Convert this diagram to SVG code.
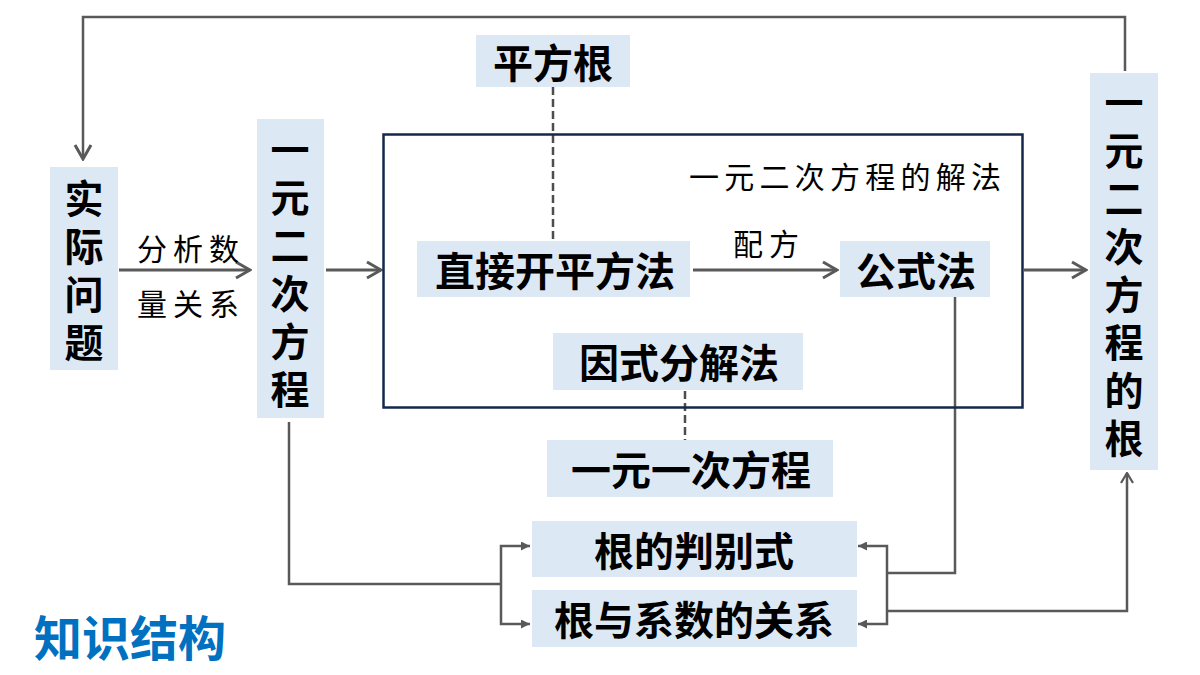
<svg xmlns="http://www.w3.org/2000/svg" width="1200" height="675" viewBox="0 0 1200 675">
<style>
.box{fill:#dde8f5}
.t{font-family:"Noto Sans CJK SC","Noto Sans",sans-serif;font-weight:bold;font-size:40px;fill:#000;dominant-baseline:central}
.v{font-size:39px}
.c{text-anchor:middle}
.lbl{font-family:"Noto Sans CJK SC","Noto Sans",sans-serif;font-weight:400;font-size:30px;fill:#000;dominant-baseline:central}
.ln{fill:none;stroke:#595959;stroke-width:2.5}
.thick{stroke-width:3}
.dash{fill:none;stroke:#4d4d4d;stroke-width:2.5;stroke-dasharray:8,4}
</style>
<defs>
<marker id="chev" viewBox="0 0 18 20" refX="16" refY="10" markerWidth="18" markerHeight="20" markerUnits="userSpaceOnUse" orient="auto"><path d="M2,2 L16,10 L2,18" fill="none" stroke="#595959" stroke-width="3"/></marker>
<marker id="chevS" viewBox="0 0 12 14" refX="11" refY="7" markerWidth="12" markerHeight="14" markerUnits="userSpaceOnUse" orient="auto"><path d="M1,1 L11,7 L1,13" fill="none" stroke="#595959" stroke-width="2.2"/></marker>
<marker id="tri" viewBox="0 0 10 10" refX="10" refY="5" markerWidth="9" markerHeight="9" markerUnits="userSpaceOnUse" orient="auto"><path d="M0,0 L10,5 L0,10 Z" fill="#595959"/></marker>
</defs>
<rect width="1200" height="675" fill="#fff"/>

<g id="connectors">
<path class="ln" d="M1125,71 V17 H83 V159" marker-end="url(#chev)"/>
<path class="ln thick" d="M119,270 H250" marker-end="url(#chev)"/>
<path class="ln thick" d="M326,270 H381" marker-end="url(#chev)"/>
<path class="ln thick" d="M693,270 H837" marker-end="url(#chev)"/>
<path class="ln thick" d="M1024,270 H1086" marker-end="url(#chev)"/>
<path class="dash" d="M553,87 V240"/>
<path class="dash" d="M685,391 V440"/>
<path class="ln" d="M289,422 V584 H501"/>
<path class="ln" d="M501,584 V546 H530" marker-end="url(#tri)"/>
<path class="ln" d="M501,584 V624 H530" marker-end="url(#tri)"/>
<path class="ln" d="M955,297 V573 H887"/>
<path class="ln" d="M887,573 V546 H858" marker-end="url(#tri)"/>
<path class="ln" d="M887,573 V624 H858" marker-end="url(#tri)"/>
<path class="ln" d="M887,611 H1127 V473" marker-end="url(#chevS)"/>
</g>

<g id="frame">
<rect x="383.5" y="134.5" width="639" height="273" fill="none" stroke="#14284b" stroke-width="2.5"/>
<text class="lbl" x="689" y="175" textLength="312" lengthAdjust="spacing">一元二次方程的解法</text>
</g>

<g id="label-analysis">
<text class="lbl" x="137" y="247" textLength="102" lengthAdjust="spacing">分析数</text>
<text class="lbl" x="137" y="302" textLength="102" lengthAdjust="spacing">量关系</text>
</g>
<g id="label-peifang">
<text class="lbl" x="733" y="242" textLength="66" lengthAdjust="spacing">配方</text>
</g>

<g id="node-shiji">
<rect class="box" x="50" y="167" width="68" height="203"/>
<text class="t v c"><tspan x="84" y="196">实</tspan><tspan x="84" y="244">际</tspan><tspan x="84" y="292">问</tspan><tspan x="84" y="340">题</tspan></text>
</g>

<g id="node-fangcheng">
<rect class="box" x="257" y="119" width="67" height="299"/>
<text class="t v c"><tspan x="290" y="147">一</tspan><tspan x="290" y="195">元</tspan><tspan x="290" y="243">二</tspan><tspan x="290" y="291">次</tspan><tspan x="290" y="339">方</tspan><tspan x="290" y="387">程</tspan></text>
</g>

<g id="node-pingfanggen">
<rect class="box" x="476" y="35" width="154" height="52"/>
<text class="t c" x="553" y="61">平方根</text>
</g>

<g id="node-zhijie">
<rect class="box" x="417" y="241" width="273" height="56"/>
<text class="t c" x="555" y="269">直接开平方法</text>
</g>

<g id="node-gongshi">
<rect class="box" x="840" y="241" width="150" height="56"/>
<text class="t c" x="916" y="269">公式法</text>
</g>

<g id="node-yinshi">
<rect class="box" x="553" y="333" width="250" height="57"/>
<text class="t c" x="679" y="361">因式分解法</text>
</g>

<g id="node-yiyuanyici">
<rect class="box" x="547" y="440" width="286" height="57"/>
<text class="t c" x="691" y="468">一元一次方程</text>
</g>

<g id="node-panbie">
<rect class="box" x="532" y="521" width="325" height="56"/>
<text class="t c" x="694" y="549">根的判别式</text>
</g>

<g id="node-xishu">
<rect class="box" x="532" y="590" width="325" height="57"/>
<text class="t c" x="694" y="618">根与系数的关系</text>
</g>

<g id="node-gen">
<rect class="box" x="1090" y="73" width="68" height="397"/>
<text class="t v c"><tspan x="1124" y="100">一</tspan><tspan x="1124" y="148">元</tspan><tspan x="1124" y="196">二</tspan><tspan x="1124" y="244">次</tspan><tspan x="1124" y="292">方</tspan><tspan x="1124" y="340">程</tspan><tspan x="1124" y="388">的</tspan><tspan x="1124" y="436">根</tspan></text>
</g>

<g id="title">
<text x="34" y="635" font-family="'Noto Sans CJK SC','Noto Sans',sans-serif" font-weight="bold" font-size="48" fill="#0070c0" dominant-baseline="central">知识结构</text>
</g>
</svg>
